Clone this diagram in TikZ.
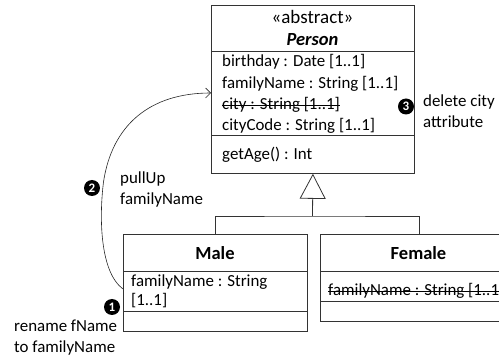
\documentclass[tikz,border=0pt]{standalone}
\usepackage{fontspec}
\setmainfont{Carlito}
\usetikzlibrary{arrows.meta}
\begin{document}
\begin{tikzpicture}[x=1pt,y=-1pt,
 line/.style={draw=black!80, line width=0.8pt},
 txt/.style={inner sep=0pt, anchor=west, font=\fontsize{16.9}{21}\selectfont},
 ctxt/.style={inner sep=0pt, font=\fontsize{19}{22}\selectfont},
 cname/.style={inner sep=0pt, font=\fontsize{18.5}{22}\selectfont\bfseries},
 badge/.style={circle, fill=black, text=white, inner sep=0pt, minimum size=16pt, font=\fontsize{13}{13}\selectfont\bfseries},
 box/.style={line, anchor=north west, inner sep=0pt, rectangle},
 note/.style={inner sep=0pt, anchor=west, align=left, font=\fontsize{16.9}{21}\selectfont},
 strike/.style={draw=black, line width=0.7pt},
]
\useasboundingbox (0,0) rectangle (499,358);
\clip (0,0) rectangle (499,358);

% Person class
\node[box, minimum width=203pt, minimum height=168.3pt] (person) at (211,4.7) {};
\draw[line] (211,51) -- (414,51);
\draw[line] (211,135.5) -- (414,135.5);
\node[ctxt] (pst) at (312.5,17) {«abstract»};
\node[cname, font=\fontsize{18.5}{22}\selectfont\bfseries\itshape] (pname) at (312.5,40) {Person};
\node[txt] (a1) at (222,62) {birthday : Date [1..1]};
\node[txt] (a2) at (222,83.5) {familyName : String [1..1]};
\node[txt] (a3) at (222,105) {city : String [1..1]};
\draw[strike] (a3.west) -- (a3.east);
\node[txt] (a4) at (222,126) {cityCode : String [1..1]};
\node[txt] (o1) at (222,155) {getAge() : Int};

% Male class
\node[box, minimum width=184pt, minimum height=97pt] (male) at (123,234) {};
\draw[line] (123,271.5) -- (307,271.5);
\draw[line] (123,311.5) -- (307,311.5);
\node[cname] (mname) at (215,253) {Male};
\node[txt] (m1) at (131,282) {familyName : String};
\node[txt] (m2) at (131,300.5) {[1..1]};

% Female class
\node[box, minimum width=197pt, minimum height=87pt] (female) at (320,234) {};
\draw[line] (320,271.5) -- (517,271.5);
\draw[line] (320,301) -- (517,301);
\node[cname] (fname) at (418.5,253) {Female};
\node[txt] (f1) at (328,291) {familyName : String [1..1]};
\draw[strike] (f1.west) -- (f1.east);

% generalization
\coordinate (jn) at (312.5,216);
\draw[line] (male.north) |- (jn) -| (female.north);
\draw[line, -{Triangle[open, length=25pt, width=26pt, line width=0.8pt]}] (jn) -- (person.south);

% pull-up arrow
\coordinate (cs) at (123,289);
\coordinate (ce) at (211,93);
\draw[draw=black!85, line width=0.6pt, -{Straight Barb[length=5pt, width=10pt]}] (cs) .. controls (100,272) and (99,218) .. (103.5,182) .. controls (112,125) and (150,93) .. (ce);

% badges and notes
\node[badge] (b3) at (406,106.5) {3};
\node[note] (n3) at (423,111) {delete city\\attribute};
\node[badge] (b2) at (92,188) {2};
\node[note] (n2) at (120,189) {pullUp\\familyName};
\node[badge] (b1) at (112,307) {1};
\node[note] (n1) at (14,337.5) {rename fName\\to familyName};
\end{tikzpicture}
\end{document}
